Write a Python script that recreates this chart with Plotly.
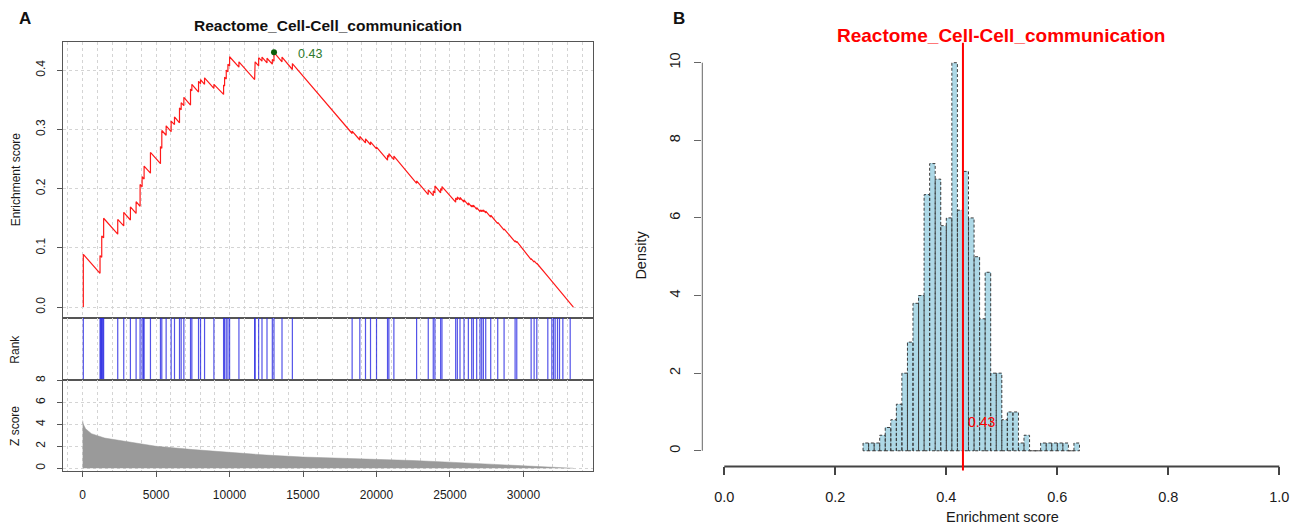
import plotly.graph_objects as go

# ---------------- Panel A data ----------------
es_rank = [48, 48, 1184, 1184, 1300, 1300, 1430, 1430, 2389, 2389, 2798, 2798,
           3252, 3252, 3639, 3639, 3911, 3911, 4048, 4048, 4184, 4184, 4616, 4616,
           5298, 5298, 5389, 5389, 5684, 5684, 6025, 6025, 6252, 6252, 6593, 6593,
           6707, 6707, 6889, 6889, 7343, 7343, 7434, 7434, 7889, 7889, 8025, 8025,
           8298, 8298, 8934, 8934, 9593, 9593, 9661, 9661, 9775, 9775, 9889, 9889,
           10002, 10002, 10638, 10638, 11707, 11707, 11740, 11740, 11980, 11980,
           12207, 12207, 12548, 12548, 12911, 12911, 13025, 13025, 13570, 13570,
           14275, 14275, 18343, 18343, 18866, 18866, 19252, 19252, 19593, 19593,
           20002, 20002, 20752, 20752, 20843, 20843, 21184, 21184, 22730, 22730,
           23523, 23523, 23864, 23864, 23977, 23977, 24366, 24366, 24457, 24457,
           25389, 25389, 25502, 25502, 25684, 25684, 25957, 25957, 26252, 26252,
           26480, 26480, 26593, 26593, 26820, 26820, 27048, 27048, 27161, 27161,
           27275, 27275, 27434, 27434, 27775, 27775, 28252, 28252, 28684, 28684,
           29434, 29434, 29548, 29548, 30525, 30525, 30729, 30729, 30911, 30911,
           31661, 33400]
es_score = [0.0, 0.089, 0.057, 0.087, 0.084, 0.120, 0.117, 0.150, 0.123, 0.148, 0.137, 0.160,
            0.147, 0.169, 0.158, 0.178, 0.170, 0.207, 0.203, 0.220, 0.216, 0.238, 0.226, 0.261,
            0.242, 0.271, 0.268, 0.298, 0.290, 0.306, 0.296, 0.314, 0.308, 0.321, 0.311, 0.336,
            0.333, 0.345, 0.340, 0.354, 0.341, 0.368, 0.365, 0.376, 0.363, 0.381, 0.377, 0.384,
            0.376, 0.387, 0.369, 0.376, 0.359, 0.375, 0.373, 0.388, 0.385, 0.400, 0.397, 0.410,
            0.407, 0.4225, 0.405, 0.414, 0.384, 0.400, 0.399, 0.414, 0.407, 0.421,
            0.415, 0.422, 0.412, 0.420, 0.410, 0.418, 0.415, 0.430, 0.414, 0.422,
            0.401, 0.411, 0.293, 0.297, 0.282, 0.288, 0.277, 0.284, 0.274, 0.279,
            0.267, 0.270, 0.248, 0.256, 0.253, 0.259, 0.249, 0.255, 0.209, 0.213,
            0.190, 0.198, 0.188, 0.196, 0.193, 0.2045, 0.193, 0.200, 0.197, 0.2035,
            0.177, 0.184, 0.181, 0.186, 0.181, 0.185, 0.177, 0.181, 0.172, 0.176,
            0.169, 0.172, 0.169, 0.172, 0.165, 0.168, 0.161, 0.164, 0.161, 0.164,
            0.161, 0.164, 0.159, 0.162, 0.152, 0.155, 0.141, 0.143, 0.130, 0.132,
            0.110, 0.112, 0.109, 0.111, 0.080, 0.082, 0.076, 0.078, 0.073, 0.074,
            0.052, 0.0]
peak_rank = 13025
peak_es = 0.43
peak_label = "0.43"

hit_ranks = [48, 1184, 1230, 1280, 1330, 1380, 1430, 2389, 2798, 3252, 3639, 3911, 4048,
             4139, 4184, 4616, 5298, 5389, 5684, 6025, 6252, 6593, 6707, 6889, 7343, 7434,
             7889, 8025, 8298, 8934, 9593, 9661, 9775, 9889, 10002, 10638, 11707, 11740,
             11980, 12207, 12548, 12911, 13025, 13570, 14275, 18343, 18866, 19252, 19593,
             20002, 20752, 20843, 21184, 22730, 23523, 23864, 23977, 24366, 24457, 25389,
             25502, 25684, 25957, 26252, 26480, 26593, 26820, 27048, 27161, 27275, 27434,
             27775, 28252, 28684, 29434, 29548, 30525, 30729, 30911, 31661, 31934, 32048,
             32161, 32320, 32457, 32684, 33184]

z_rank = [0, 50, 200, 600, 1500, 3000, 5000, 7500, 10000, 12500, 15000, 17500,
          20000, 22500, 25000, 27500, 30000, 32000, 33400]
z_score = [4.35, 4.0, 3.6, 3.15, 2.75, 2.4, 2.0, 1.7, 1.45, 1.2, 1.02, 0.93,
           0.85, 0.70, 0.55, 0.40, 0.26, 0.12, 0.0]

a_xticks = [0, 5000, 10000, 15000, 20000, 25000, 30000]
es_yticks = [0.0, 0.1, 0.2, 0.3, 0.4]
es_yticktext = ["0.0", "0.1", "0.2", "0.3", "0.4"]
z_yticks = [0, 2, 4, 6, 8]

# ---------------- Panel B data ----------------
bin_left = [0.25, 0.26, 0.27, 0.28, 0.29, 0.30, 0.31, 0.32, 0.33, 0.34, 0.35, 0.36, 0.37,
            0.38, 0.39, 0.40, 0.41, 0.42, 0.43, 0.44, 0.45, 0.46, 0.47, 0.48, 0.49, 0.50,
            0.51, 0.52, 0.53, 0.54, 0.55, 0.56, 0.57, 0.58, 0.59, 0.60, 0.61, 0.62, 0.63]
density = [0.2, 0.2, 0.2, 0.4, 0.6, 0.8, 1.2, 2.0, 2.8, 3.8, 4.0, 6.6, 7.4,
           7.0, 5.8, 6.0, 10.0, 6.2, 7.2, 6.0, 5.0, 3.4, 4.6, 2.0, 2.0, 0.8,
           1.0, 1.0, 0.2, 0.4, 0.0, 0.0, 0.2, 0.2, 0.2, 0.2, 0.2, 0.0, 0.2]
bin_width = 0.01
observed_es = 0.43
observed_label = "0.43"
b_xticks = [0.0, 0.2, 0.4, 0.6, 0.8, 1.0]
b_xticktext = ["0.0", "0.2", "0.4", "0.6", "0.8", "1.0"]
b_yticks = [0, 2, 4, 6, 8, 10]

title_text = "Reactome_Cell-Cell_communication"

# ---------------- layout helpers ----------------
W, H = 1304, 528
FONT = "Liberation Sans, Arial, sans-serif"


def fx(p):
    return p / W


def fy(p):
    return 1 - p / H


GRID = "#d4d4d4"
BOX = "#555555"

fig = go.Figure()

# ES running score
fig.add_trace(go.Scatter(x=es_rank, y=es_score, mode="lines",
                         line=dict(color="#ff1a1a", width=1.2),
                         xaxis="x", yaxis="y", hoverinfo="skip"))
fig.add_trace(go.Scatter(x=[peak_rank], y=[peak_es], mode="markers",
                         marker=dict(color="#0b5e0b", size=6),
                         xaxis="x", yaxis="y", hoverinfo="skip"))

# Rank hits
hx, hy = [], []
for r in hit_ranks:
    hx += [r, r, None]
    hy += [0, 1, None]
fig.add_trace(go.Scatter(x=hx, y=hy, mode="lines",
                         line=dict(color="rgba(35,35,225,0.78)", width=1.2),
                         xaxis="x2", yaxis="y2", hoverinfo="skip"))

# Z score
fig.add_trace(go.Scatter(x=z_rank, y=z_score, mode="lines", fill="tozeroy",
                         fillcolor="#9a9a9a", line=dict(color="#9a9a9a", width=0.5),
                         xaxis="x3", yaxis="y3", hoverinfo="skip"))

# Histogram bars
centers = [b + bin_width / 2 for b in bin_left]
fig.add_trace(go.Bar(x=centers, y=density, width=bin_width,
                     marker=dict(color="#add8e6", line=dict(width=0)),
                     xaxis="x4", yaxis="y4", hoverinfo="skip"))
ox, oy = [], []
for b, d in zip(bin_left, density):
    ox += [b, b, b + bin_width, b + bin_width, b, None]
    oy += [0, d, d, 0, 0, None]
fig.add_trace(go.Scatter(x=ox, y=oy, mode="lines",
                         line=dict(color="#3a3a3a", width=1, dash="3px,2px"),
                         xaxis="x4", yaxis="y4", hoverinfo="skip"))

# ---------------- axes ----------------
a_dom = [fx(63), fx(593)]
a_xrange = [-1336, 34736]
tickfontA = dict(family=FONT, size=12, color="#1a1a1a")
tickfontB = dict(family=FONT, size=14.5, color="#1a1a1a")

common_x = dict(domain=a_dom, range=a_xrange, showline=True, mirror=True, linecolor=BOX,
                linewidth=1.3, zeroline=False, tickmode="linear", tick0=0, dtick=5000,
                tickformat="d",
                showgrid=True, gridcolor=GRID, griddash="dot", gridwidth=1,
                minor=dict(tick0=0, dtick=1000, showgrid=True, gridcolor=GRID,
                           griddash="dot", gridwidth=1, ticks=""))

fig.update_layout(
    width=W, height=H, margin=dict(l=0, r=0, t=0, b=0),
    paper_bgcolor="white", plot_bgcolor="white", showlegend=False,
    font=dict(family=FONT, color="#1a1a1a"),
    xaxis=dict(common_x, anchor="y", showticklabels=False, ticks=""),
    yaxis=dict(domain=[fy(316), fy(37)], anchor="x", range=[-0.0184, 0.448],
               showline=True, mirror=True, linecolor=BOX, linewidth=1.3, zeroline=False,
               tickmode="array", tickvals=es_yticks, ticktext=es_yticktext, tickangle=-90,
               ticks="outside", ticklen=5, tickcolor=BOX, tickfont=tickfontA,
               ticklabelstandoff=7,
               showgrid=True, gridcolor=GRID, griddash="dot"),
    xaxis2=dict(common_x, anchor="y2", showticklabels=False, ticks=""),
    yaxis2=dict(domain=[fy(379), fy(316)], anchor="x2", range=[0, 1],
                showline=True, mirror=True, linecolor=BOX, linewidth=1.3, zeroline=False,
                showticklabels=False, ticks="", showgrid=False),
    xaxis3=dict(common_x, anchor="y3", showticklabels=True, ticks="outside", ticklen=5,
                tickcolor=BOX, tickfont=tickfontA, ticklabelstandoff=8),
    yaxis3=dict(domain=[fy(470), fy(379)], anchor="x3", range=[-0.21, 8.0],
                showline=True, mirror=True, linecolor=BOX, linewidth=1.3, zeroline=False,
                tickmode="array", tickvals=z_yticks, tickangle=-90,
                ticks="outside", ticklen=5, tickcolor=BOX, tickfont=tickfontA,
                ticklabelstandoff=7,
                showgrid=True, gridcolor=GRID, griddash="dot"),
    xaxis4=dict(domain=[fx(702.1), fx(1301.5)], anchor="y4", range=[-0.04, 1.04],
                showline=False, zeroline=False, showgrid=False,
                tickmode="array", tickvals=b_xticks, ticktext=b_xticktext,
                ticks="outside", ticklen=8, tickwidth=1.5, tickcolor="#444",
                tickfont=tickfontB, ticklabelstandoff=9),
    yaxis4=dict(domain=[fy(465.7), fy(42.6)], anchor="x4", range=[-0.4, 10.4],
                showline=False, zeroline=False, showgrid=False,
                tickmode="array", tickvals=b_yticks, tickangle=-90,
                ticks="outside", ticklen=7, tickwidth=1, tickcolor="#666",
                tickfont=tickfontB, ticklabelstandoff=8),
    bargap=0,
)

# ---------------- shapes ----------------
fig.add_shape(type="line", xref="x4", yref="paper", x0=b_xticks[0], x1=b_xticks[-1],
              y0=fy(466), y1=fy(466), line=dict(color="#444", width=2))
fig.add_shape(type="line", xref="paper", yref="y4", x0=fx(702.3), x1=fx(702.3),
              y0=b_yticks[0], y1=b_yticks[-1], line=dict(color="#666", width=1))
fig.add_shape(type="line", xref="x4", yref="paper", x0=observed_es, x1=observed_es,
              y0=fy(470), y1=fy(38), line=dict(color="#ff0000", width=2))

# ---------------- annotations ----------------
def ann(text, x, y, size, color="#1a1a1a", angle=0, xref="paper", yref="paper",
        xanchor="center", yanchor="middle"):
    fig.add_annotation(text=text, x=x, y=y, xref=xref, yref=yref, showarrow=False,
                       textangle=angle, xanchor=xanchor, yanchor=yanchor,
                       font=dict(family=FONT, size=size, color=color))


ann("<b>A</b>", fx(25), fy(14), 17, color="#111")
ann("<b>B</b>", fx(679), fy(14), 17, color="#111")
ann("<b>" + title_text + "</b>", fx(328), fy(21), 15.5, color="#111")
ann("<b>" + title_text + "</b>", fx(1001), fy(31), 19, color="#ff0000")
ann("Enrichment score", fx(16), fy(176), 12, angle=-90)
ann("Rank", fx(15), fy(348), 12, angle=-90)
ann("Z score", fx(15), fy(425), 12, angle=-90)
ann("Density", fx(641), fy(253), 14.5, angle=-90)
ann("Enrichment score", fx(1002), fy(517), 14.5)
ann(peak_label, peak_rank + 1500, peak_es - 0.003, 12.5, color="#2e7a2e",
    xref="x", yref="y", xanchor="left")
ann(observed_label, observed_es + 0.005, 0.75, 14, color="#ff0000",
    xref="x4", yref="y4", xanchor="left")

fig.write_html("out.html")
